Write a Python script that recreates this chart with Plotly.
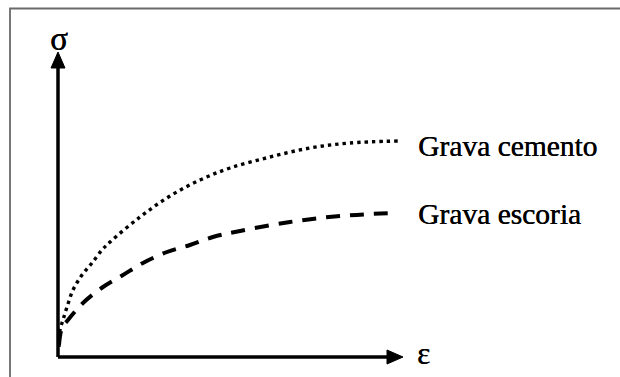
import plotly.graph_objects as go

# Stress-strain curves (arbitrary units): strain ε vs stress σ
eps_cemento = [0.01, 0.02, 0.05, 0.09, 0.15, 0.24, 0.34, 0.44, 0.52, 0.82, 1.12,
               1.42, 1.72, 2.12, 2.52, 2.92, 3.40]
sig_cemento = [0.10, 0.27, 0.37, 0.50, 0.67, 0.82, 0.94, 1.07, 1.15, 1.40, 1.61,
               1.77, 1.89, 2.00, 2.09, 2.14, 2.16]

eps_escoria = [0.01, 0.04, 0.10, 0.25, 0.45, 0.65, 0.85, 1.09, 1.32, 1.55, 1.82,
               2.32, 2.82, 3.35]
sig_escoria = [0.12, 0.29, 0.37, 0.54, 0.70, 0.82, 0.94, 1.05, 1.12, 1.20, 1.26,
               1.35, 1.41, 1.44]

series_names = ["Grava cemento", "Grava escoria"]
axis_labels = ["σ", "ε"]

# Axis arrow extents in data units
Y_TIP = 3.05
X_TIP = 3.45

W, H = 620, 377
SERIF = "Liberation Serif, Times New Roman, serif"
INK = "0.45px 0 0 #000"  # slightly heavier printed-looking glyphs

fig = go.Figure()

fig.add_trace(go.Scatter(
    x=eps_cemento, y=sig_cemento, mode="lines", line_shape="spline",
    line=dict(color="black", width=3.4, dash="3.4px,4px"), hoverinfo="skip"))
fig.add_trace(go.Scatter(
    x=eps_escoria, y=sig_escoria, mode="lines", line_shape="spline",
    line=dict(color="black", width=4, dash="14px,10px"), hoverinfo="skip"))

shapes = []
# axis shafts
shapes.append(dict(type="line", xref="x", yref="y", x0=0, y0=0, x1=0, y1=Y_TIP - 0.14,
                   line=dict(color="black", width=3.5)))
shapes.append(dict(type="line", xref="x", yref="y", x0=0, y0=0, x1=X_TIP - 0.14, y1=0,
                   line=dict(color="black", width=3.5)))
# arrowheads (pixel-sized triangles anchored at the tips)
shapes.append(dict(type="path", xref="x", yref="y",
                   xsizemode="pixel", ysizemode="pixel", xanchor=0, yanchor=Y_TIP,
                   path="M0,0 L-7,-16 L7,-16 Z", fillcolor="black",
                   line=dict(color="black", width=1)))
shapes.append(dict(type="path", xref="x", yref="y",
                   xsizemode="pixel", ysizemode="pixel", xanchor=X_TIP, yanchor=0,
                   path="M0,0 L-16,7 L-16,-7 Z", fillcolor="black",
                   line=dict(color="black", width=1)))
# open frame: left edge and top edge as one polyline
fx, fy = 10 / W, 1 - 8.5 / H
shapes.append(dict(type="path", xref="paper", yref="paper",
                   path=f"M{fx},0 L{fx},{fy} L1.01,{fy}",
                   fillcolor="rgba(0,0,0,0)",
                   line=dict(color="#6a6a6a", width=1.8)))

annotations = [
    dict(x=0.01, y=3.18, xref="x", yref="y", text=axis_labels[0], showarrow=False,
         font=dict(family=SERIF, size=33, color="black", shadow=INK),
         xanchor="center", yanchor="middle"),
    dict(x=3.57, y=0.04, xref="x", yref="y", text=axis_labels[1], showarrow=False,
         font=dict(family=SERIF, size=31, color="black", shadow=INK),
         xanchor="left", yanchor="middle"),
    dict(x=3.575, y=sig_cemento[-1] - 0.05, xref="x", yref="y", text=series_names[0],
         showarrow=False, font=dict(family=SERIF, size=29.5, color="black", shadow=INK),
         xanchor="left", yanchor="middle"),
    dict(x=3.575, y=sig_escoria[-1] - 0.01, xref="x", yref="y", text=series_names[1],
         showarrow=False, font=dict(family=SERIF, size=29.5, color="black", shadow=INK),
         xanchor="left", yanchor="middle"),
]

fig.update_layout(
    width=W, height=H, margin=dict(l=0, r=0, t=0, b=0),
    paper_bgcolor="white", plot_bgcolor="white", showlegend=False,
    xaxis=dict(range=[-0.58, 5.62], visible=False, fixedrange=True),
    yaxis=dict(range=[-0.20, 3.57], visible=False, fixedrange=True),
    shapes=shapes, annotations=annotations,
)

fig.write_html("out.html", config={"displayModeBar": False})
